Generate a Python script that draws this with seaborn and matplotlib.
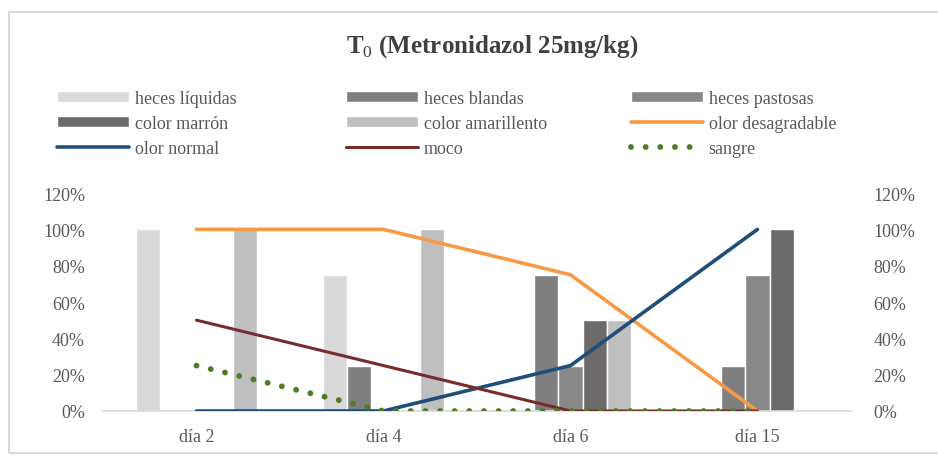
import numpy as np
import pandas as pd
import matplotlib.pyplot as plt
import seaborn as sns
from matplotlib.patches import Rectangle

sns.set_style('white')
plt.rcParams['font.family'] = ['Liberation Serif', 'DejaVu Serif']
plt.rcParams['mathtext.fontset'] = 'custom'
plt.rcParams['mathtext.rm'] = 'Liberation Serif'
plt.rcParams['mathtext.bf'] = 'Liberation Serif:bold'

dias = ['día 2', 'día 4', 'día 6', 'día 15']

# barras (eje primario)
heces_liquidas = [1.00, 0.75, 0.00, 0.00]
heces_blandas = [0.00, 0.25, 0.75, 0.25]
heces_pastosas = [0.00, 0.00, 0.25, 0.75]
color_marron = [0.00, 0.00, 0.50, 1.00]
color_amarillento = [1.00, 1.00, 0.50, 0.00]

# lineas (eje secundario)
olor_desagradable = [1.00, 1.00, 0.75, 0.00]
olor_normal = [0.00, 0.00, 0.25, 1.00]
moco = [0.50, 0.25, 0.00, 0.00]
sangre = [0.25, 0.00, 0.00, 0.00]

bar_series = {
    'heces líquidas': heces_liquidas,
    'heces blandas': heces_blandas,
    'heces pastosas': heces_pastosas,
    'color marrón': color_marron,
    'color amarillento': color_amarillento,
}
bar_colors = ['#d9d9d9', '#7f7f7f', '#888888', '#6d6a6a', '#bfbfbf']

rows = []
for name, vals in bar_series.items():
    for d, v in zip(dias, vals):
        rows.append({'dia': d, 'serie': name, 'valor': v})
df = pd.DataFrame(rows)

TXT = '#595959'
GRID = '#d9d9d9'

fig = plt.figure(figsize=(9.38, 4.56), dpi=100)
ax = fig.add_axes([0.1098, 0.0965, 0.7974, 0.478])

sns.barplot(data=df, x='dia', y='valor', hue='serie', palette=bar_colors,
            width=0.65, gap=0, ax=ax, saturation=1, errorbar=None)
leg = ax.get_legend()
bar_handles = list(leg.legend_handles)
bar_labels = [t.get_text() for t in leg.get_texts()]
leg.remove()

ax2 = ax.twinx()
x = np.arange(len(dias))
sns.lineplot(x=x, y=olor_desagradable, ax=ax2, color='#f69a45', lw=2.6,
             label='olor desagradable')
sns.lineplot(x=x, y=olor_normal, ax=ax2, color='#1f4e79', lw=2.6,
             label='olor normal')
sns.lineplot(x=x, y=moco, ax=ax2, color='#772b2b', lw=2.2, label='moco')
sns.lineplot(x=x, y=sangre, ax=ax2, color='#4f7a28', lw=4.2,
             linestyle=(0, (0.01, 2.5)), dash_capstyle='round', label='sangre')
line_handles, line_labels = ax2.get_legend_handles_labels()
ax2.get_legend().remove()

for a in (ax, ax2):
    a.set_ylim(0, 1.2)
    a.set_yticks(np.arange(0, 1.21, 0.2))
    a.set_yticklabels([f'{int(round(v * 100))}%' for v in np.arange(0, 1.21, 0.2)])
    a.set_xlim(-0.5, len(dias) - 0.5)
    a.set_xlabel('')
    a.set_ylabel('')
    for s in a.spines.values():
        s.set_visible(False)
    a.grid(False)

ax.spines['bottom'].set_visible(True)
ax.spines['bottom'].set_color(GRID)
ax.spines['bottom'].set_linewidth(1.2)
ax.set_xticks(x)
ax.set_xticklabels(dias)
ax.set_xticks(np.arange(-0.5, len(dias), 1), minor=True)
ax.tick_params(axis='x', which='major', length=0, pad=12, labelsize=13, labelcolor=TXT)
ax.tick_params(axis='x', which='minor', length=4, color=GRID, width=1, direction='out')
ax.tick_params(axis='y', length=0, pad=13, labelsize=13, labelcolor=TXT)
ax2.tick_params(axis='y', length=0, pad=16, labelsize=13, labelcolor=TXT)

# leyenda en tres columnas (orden por filas)
handles = bar_handles + line_handles
labels = bar_labels + line_labels
col_x = [57, 346, 631]
for i in range(3):
    idx = [i, i + 3, i + 6]
    lg = fig.legend([handles[k] for k in idx], [labels[k] for k in idx],
                    loc='upper left', bbox_to_anchor=(col_x[i] / 938, 1 - 91 / 456),
                    frameon=False, borderpad=0, borderaxespad=0, handlelength=4.0,
                    handleheight=0.55, handletextpad=0.3, labelspacing=0.45,
                    fontsize=13)
    for t in lg.get_texts():
        t.set_color(TXT)

fig.text(492 / 938, 1 - 47 / 456, r'T$_0$ (Metronidazol 25mg/kg)', ha='center',
         va='center', fontsize=18, fontweight='bold', color='#404040')

fig.patches.append(Rectangle((9 / 938, 2 / 456), 0.995, 0.968, transform=fig.transFigure,
                             fill=False, ec=GRID, lw=1.5))

fig.savefig('out.png', dpi=100)
